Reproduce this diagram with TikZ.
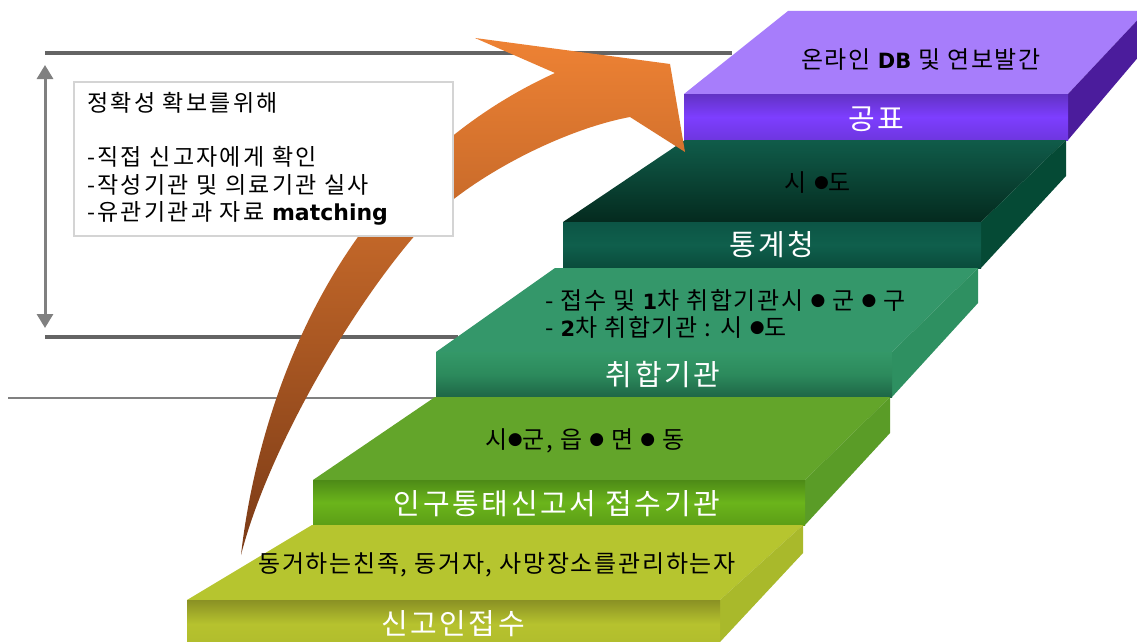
\documentclass[tikz,border=0pt]{standalone}
\usepackage{fontspec}
\newfontfamily\kr{Noto Sans CJK KR}
\newfontfamily\krtop{Noto Sans CJK KR}[LetterSpace=7]
\newfontfamily\krbox{Noto Sans CJK KR}[LetterSpace=10]
\newfontfamily\krfront{Noto Sans CJK KR}[LetterSpace=9]
\newfontfamily\lat{DejaVu Sans}
\usetikzlibrary{arrows.meta}
\definecolor{lineGray}{HTML}{646464}
\definecolor{arrGray}{HTML}{808080}
\definecolor{boxGray}{HTML}{D4D4D4}
\definecolor{orA}{HTML}{EE8234}
\definecolor{orB}{HTML}{D8702C}
\definecolor{orC}{HTML}{7A3A16}
% step 5 purple
\definecolor{pTop}{HTML}{A77DFB}
\definecolor{pFa}{HTML}{6232C4}
\definecolor{pFb}{HTML}{7D3EFF}
\definecolor{pFc}{HTML}{6E36DF}
\definecolor{pSide}{HTML}{4B1C9C}
% step 4 dark green
\definecolor{dTa}{HTML}{105C4A}
\definecolor{dTb}{HTML}{042A1E}
\definecolor{dFa}{HTML}{0C5545}
\definecolor{dFb}{HTML}{0F5F4C}
\definecolor{dFc}{HTML}{0A4B3B}
\definecolor{dSide}{HTML}{054A35}
% step 3 medium green
\definecolor{mTop}{HTML}{34976A}
\definecolor{mFa}{HTML}{349868}
\definecolor{mFb}{HTML}{2C8A5C}
\definecolor{mFc}{HTML}{1E6646}
\definecolor{mSide}{HTML}{2E9061}
% step 2 green
\definecolor{gTop}{HTML}{63A52A}
\definecolor{gFa}{HTML}{4D8A17}
\definecolor{gFb}{HTML}{6BB51B}
\definecolor{gFc}{HTML}{5C9E16}
\definecolor{gSide}{HTML}{5A9C27}
% step 1 olive
\definecolor{oTop}{HTML}{B6C52F}
\definecolor{oFa}{HTML}{8A9124}
\definecolor{oFb}{HTML}{B6C22E}
\definecolor{oFc}{HTML}{B0BC2C}
\definecolor{oSide}{HTML}{A9B92B}
\newcommand{\dotb}{\raisebox{4pt}{\fontsize{17}{17}\lat ●}}
\begin{document}
\begin{tikzpicture}[x=1pt,y=-1pt,
  frontlbl/.style={text=white,font=\krfront\fontsize{29}{29}\selectfont,inner sep=0pt},
  toplbl/.style={text=black,font=\krtop\fontsize{24}{24}\selectfont,inner sep=0pt},
  boxtxt/.style={text=black,font=\krbox\fontsize{23}{23}\selectfont,inner sep=0pt,anchor=west},
  thickline/.style={draw=lineGray,line width=4pt},
  dblarrow/.style={draw=arrGray,line width=3pt,{Triangle[width=16pt,length=14pt]}-{Triangle[width=16pt,length=14pt]}}]
\useasboundingbox[fill=white] (0,0) rectangle (1137,642);

% reference lines
\coordinate (l1a) at (45,53);  \coordinate (l1b) at (732,53);
\coordinate (l2a) at (45,337); \coordinate (l2b) at (458,337);
\coordinate (l3a) at (8,398);  \coordinate (l3b) at (436,398);
\draw[thickline] (l1a) -- (l1b);
\draw[thickline] (l2a) -- (l2b);
\draw[draw=arrGray,line width=1.3pt] (l3a) -- (l3b);
\coordinate (va) at (45,65); \coordinate (vb) at (45,328);
\draw[dblarrow] (va) -- (vb);

% ---- step 5 (purple)
\fill[pTop] (684,94) -- (788,11) -- (1146,11) -- (1068,94) -- cycle;
\fill[pSide] (1068,94) -- (1146,11) -- (1146,48) -- (1068,140) -- cycle;
\shade[top color=pFa,bottom color=pFc,middle color=pFb] (684,94) rectangle (1068,140);
% ---- step 4 (dark green)
\shade[top color=dTa,bottom color=dTb] (563,222) -- (685,140) -- (1066,140) -- (981,222) -- cycle;
\fill[dSide] (981,222) -- (1066,140) -- (1066,176) -- (981,268) -- cycle;
\shade[top color=dFa,bottom color=dFc,middle color=dFb] (563,222) rectangle (981,268);
% ---- step 3 (medium green)
\fill[mTop] (436,352) -- (555,268) -- (978,268) -- (892,352) -- cycle;
\fill[mSide] (892,352) -- (978,268) -- (978,303) -- (892,397) -- cycle;
\shade[top color=mFa,bottom color=mFc,middle color=mFb] (436,352) rectangle (892,397);
% ---- step 2 (green)
\fill[gTop] (313,480) -- (435,397) -- (890,397) -- (805,480) -- cycle;
\fill[gSide] (805,480) -- (890,397) -- (890,433) -- (805,525) -- cycle;
\shade[top color=gFa,bottom color=gFc,middle color=gFb] (313,480) rectangle (805,525);
% ---- step 1 (olive)
\fill[oTop] (187,600) -- (312,525) -- (803,525) -- (720,600) -- cycle;
\fill[oSide] (720,600) -- (803,525) -- (803,553) -- (720,642) -- cycle;
\shade[top color=oFa,bottom color=oFc,middle color=oFb] (187,600) rectangle (720,648);

% ---- big curved arrow
\shade[top color=orA,middle color=orB,bottom color=orC]
  (241,555) .. controls (255,430) and (320,180) .. (555,73)
  -- (475,38) -- (670,64) -- (685,152) -- (630,117)
  .. controls (560,130) and (462,181) .. (417,233)
  .. controls (350,310) and (268,450) .. (241,555) -- cycle;

% ---- text box
\node[draw=boxGray,line width=2pt,fill=white,minimum width=379pt,minimum height=154pt,anchor=north west,inner sep=0pt] (box) at (73,81) {};
\node[boxtxt] (b1) at (87,103) {정확성 확보를위해};
\node[boxtxt] (b2) at (87,157) {-직접 신고자에게 확인};
\node[boxtxt] (b3) at (87,185) {-작성기관 및 의료기관 실사};
\node[boxtxt] (b4) at (87,213) {-유관기관과 자료 {\lat\bfseries\fontsize{22}{22}\selectfont matching}};

% ---- step labels
\node[toplbl] (t5) at (921,60) {온라인 {\lat\bfseries\fontsize{21}{21}\selectfont DB} 및 연보발간};
\node[frontlbl] (f5) at (876,119) {공표};
\node[toplbl] (t4) at (818,183) {시 \dotb 도};
\node[frontlbl] (f4) at (772,245) {통계청};
\node[toplbl,anchor=west] (t3a) at (545,300) {- 접수 및 {\lat\bfseries\fontsize{21}{21}\selectfont 1}차 취합기관시 \dotb{} 군 \dotb{} 구};
\node[toplbl,anchor=west] (t3b) at (545,327) {- {\lat\bfseries\fontsize{21}{21}\selectfont 2}차 취합기관 : 시 \dotb 도};
\node[frontlbl] (f3) at (663,375) {취합기관};
\node[toplbl] (t2) at (585,441) {시\dotb 군, 읍 \dotb{} 면 \dotb{} 동};
\node[frontlbl] (f2) at (557,504) {인구통태신고서 접수기관};
\node[toplbl] (t1) at (497,565) {동거하는친족, 동거자, 사망장소를관리하는자};
\node[frontlbl] (f1) at (453,624) {신고인접수};
\end{tikzpicture}
\end{document}
